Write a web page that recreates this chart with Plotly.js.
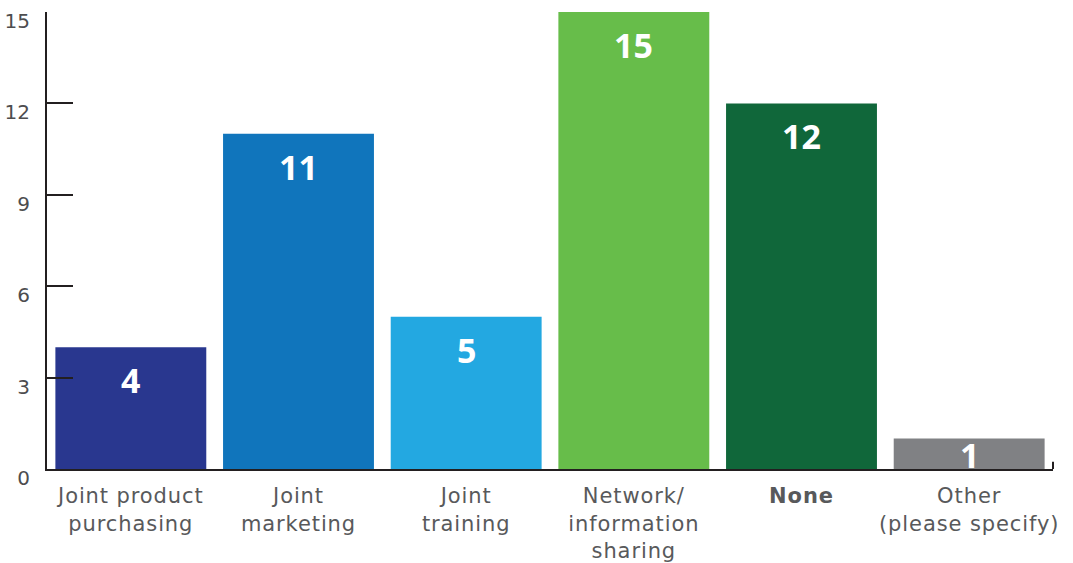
<!DOCTYPE html>
<html>
<head>
<meta charset="utf-8">
<script src="https://cdn.plot.ly/plotly-3.0.1.min.js"></script>
<style>html,body{margin:0;padding:0;background:#fff;}#chart{width:1073px;height:563px;}
.xtick text{letter-spacing:0.9px;}
</style>
</head>
<body>
<div id="chart"></div>
<script>
const categories = ["Joint product<br>purchasing", "Joint<br>marketing", "Joint<br>training", "Network/<br>information<br>sharing", "<b>None</b>", "Other<br>(please specify)"];
const values = [4, 11, 5, 15, 12, 1];
const barColors = ["#29378f", "#1075bc", "#23a8e1", "#67bd4a", "#10673a", "#808184"];
const yTickVals = [0, 3, 6, 9, 12, 15];

const plotH = 563 - 12 - 94;
const yMax = 15;
const annotations = values.map((v, i) => {
  const barPx = v / yMax * plotH;
  const capGap = Math.max(2, Math.min(20, barPx - 27));
  return {
    x: categories[i], y: v, xref: 'x', yref: 'y',
    text: '<b>' + v + '</b>', showarrow: false,
    yanchor: 'top', yshift: -(capGap - 12),
    font: {family: '"Open Sans", sans-serif', size: 34, color: '#ffffff'}
  };
});

const trace = {
  type: 'bar', x: categories, y: values,
  marker: {color: barColors, line: {width: 0}},
  hoverinfo: 'none'
};

const layout = {
  width: 1073, height: 563,
  margin: {l: 47, r: 20, t: 12, b: 94},
  paper_bgcolor: '#ffffff', plot_bgcolor: '#ffffff',
  bargap: 0.1,
  showlegend: false,
  font: {family: '"DejaVu Sans", sans-serif', color: '#58595b'},
  xaxis: {
    type: 'category', range: [-0.5, 5.5],
    showline: true, linecolor: '#231f20', linewidth: 2,
    ticks: '', showgrid: false, zeroline: false,
    tickfont: {family: '"DejaVu Sans", sans-serif', size: 21, color: '#58595b'},
    ticklabelstandoff: 7,
    fixedrange: true
  },
  yaxis: {
    range: [0, yMax], tickvals: yTickVals, ticktext: yTickVals.map(String),
    showline: true, linecolor: '#231f20', linewidth: 2,
    ticks: 'inside', ticklen: 26, tickwidth: 2, tickcolor: '#231f20',
    showgrid: false, zeroline: false,
    tickfont: {family: '"DejaVu Sans", sans-serif', size: 20, color: '#4d4d4f'},
    ticklabelstandoff: 11,
    ticklabelshift: 9,
    fixedrange: true
  },
  shapes: [{type: 'line', xref: 'paper', yref: 'paper', x0: 1, x1: 1, y0: 0, y1: 0.016, line: {color: '#231f20', width: 2}}],
  annotations: annotations
};

Plotly.newPlot('chart', [trace], layout, {displayModeBar: false, staticPlot: true});
</script>
</body>
</html>
